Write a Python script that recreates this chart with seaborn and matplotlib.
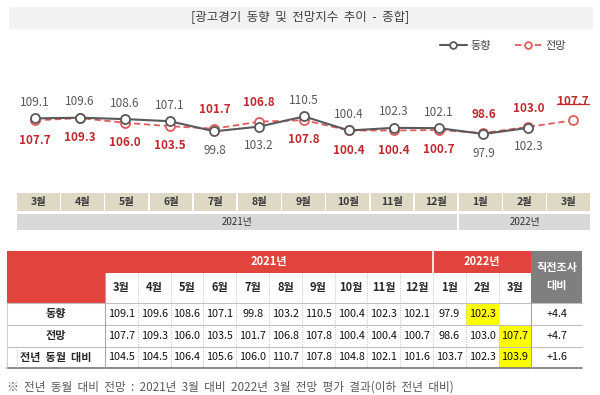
import numpy as np
import pandas as pd
import matplotlib
matplotlib.use('Agg')
import matplotlib.pyplot as plt
import matplotlib.patches as mpatches
from matplotlib.transforms import offset_copy
import seaborn as sns

months = ['3월', '4월', '5월', '6월', '7월', '8월', '9월', '10월', '11월', '12월', '1월', '2월', '3월']
years = ['2021년', '2022년']
year_span = [10, 3]
trend = [109.1, 109.6, 108.6, 107.1, 99.8, 103.2, 110.5, 100.4, 102.3, 102.1, 97.9, 102.3, np.nan]
outlook = [107.7, 109.3, 106.0, 103.5, 101.7, 106.8, 107.8, 100.4, 100.4, 100.7, 98.6, 103.0, 107.7]
yoy = [104.5, 104.5, 106.4, 105.6, 106.0, 110.7, 107.8, 104.8, 102.1, 101.6, 103.7, 102.3, 103.9]
change = ['+4.4', '+4.7', '+1.6']
row_names = ['동향', '전망', '전년  동월  대비']
title = '[광고경기  동향  및  전망지수  추이  -  종합]'
note = '※  전년  동월  대비  전망  :  2021년  3월  대비  2022년  3월  전망  평가  결과(이하  전년  대비)'

# label side for each point: 1 above, -1 below
trend_side = [1, 1, 1, 1, -1, -1, 1, 1, 1, 1, -1, -1, 0]
outlook_side = [-1, -1, -1, -1, 1, 1, -1, -1, -1, -1, 1, 1, 1]
# yellow cells (row, col)
highlight = [(0, 11), (1, 12), (2, 12)]

GRAY = '#595959'
RED_LINE = '#E25B5B'
RED_TXT = '#C0282E'
RED_HEAD = '#E0443C'

sns.set_theme(style='white')
plt.rcParams['font.family'] = ['Noto Sans CJK KR', 'DejaVu Sans']

fig = plt.figure(figsize=(6, 3.95), dpi=100)

# background layer in pixel units
bg = fig.add_axes([0, 0, 1, 1])
bg.set_xlim(0, 600)
bg.set_ylim(395, 0)
bg.axis('off')

bg.add_patch(mpatches.Rectangle((9, 7), 584, 22, color='#F2F2F2', lw=0))
bg.text(300, 18, title, ha='center', va='center', fontsize=9, color='#404040')

# month / year boxes under the chart
cw = 44.2
for i, m in enumerate(months):
    bg.add_patch(mpatches.Rectangle((17 + i * cw, 193), cw - 1.6, 18, color='#DDD9C4', lw=0))
    bg.text(17 + i * cw + (cw - 1.6) / 2, 202, m, ha='center', va='center',
            fontsize=7.5, fontweight='bold', color='#3A3A3A')
start = 0
for yname, n in zip(years, year_span):
    x0 = 17 + start * cw
    w = n * cw - 1.6
    bg.add_patch(mpatches.Rectangle((x0, 213.5), w, 16, color='#D9D9D9', lw=0))
    bg.text(x0 + w / 2, 221.5, yname, ha='center', va='center', fontsize=7, color='#303030')
    start += n

# line chart
ax = fig.add_axes([12 / 600, (395 - 180) / 395, 584 / 600, 120 / 395])
ax.patch.set_alpha(0)
x = np.arange(len(months))
df = pd.DataFrame({'x': x, '동향': trend, '전망': outlook})
sns.lineplot(data=df, x='x', y='전망', ax=ax, color=RED_LINE, lw=1.3, linestyle=(0, (3.5, 2)),
             marker='o', markersize=6.5, markerfacecolor='white', markeredgecolor=RED_LINE,
             markeredgewidth=1.3, label='전망', zorder=2)
sns.lineplot(data=df.dropna(), x='x', y='동향', ax=ax, color=GRAY, lw=1.5,
             marker='o', markersize=6.5, markerfacecolor='white', markeredgecolor=GRAY,
             markeredgewidth=1.3, label='동향', zorder=3)
ax.set_xlim(-0.513, 12.51)
ax.set_ylim(64.8, 151.1)
ax.axis('off')

for i, (v, s) in enumerate(zip(trend, trend_side)):
    if s == 0 or np.isnan(v):
        continue
    off = 11.5 if s > 0 else -13.7
    ax.annotate(f'{v:.1f}', (i, v), xytext=(0, off), textcoords='offset points',
                ha='center', va='center', fontsize=8.5, color='#595959')
for i, (v, s) in enumerate(zip(outlook, outlook_side)):
    off = 13.5 if s > 0 else -14.2
    ax.annotate(f'{v:.1f}', (i, v), xytext=(0, off), textcoords='offset points',
                ha='center', va='center', fontsize=8.5, fontweight='bold', color=RED_TXT)
# underline latest outlook
last = len(outlook) - 1
ax.plot([last - 0.36, last + 0.36], [outlook[last]] * 2, color=RED_TXT, lw=0.9,
        transform=offset_copy(ax.transData, fig=fig, y=11.8, units='points'))

h, l = ax.get_legend_handles_labels()
if ax.get_legend() is not None:
    ax.get_legend().remove()
order = [l.index('동향'), l.index('전망')]
leg = bg.legend([h[k] for k in order], [l[k] for k in order], loc='center left',
                bbox_to_anchor=(440 / 600, 1 - 46 / 395), bbox_transform=fig.transFigure,
                ncol=2, frameon=False, fontsize=8, handlelength=2.4, handletextpad=0.3,
                columnspacing=2.2, borderpad=0, borderaxespad=0, markerscale=0.75)
for t in leg.get_texts():
    t.set_color('#404040')

# table
tx0, tlab = 7, 105
dw = 32.8
tx_end = tlab + dw * len(months)
tx_last = 582
ry = [303, 325, 347, 368]

bg.add_patch(mpatches.Rectangle((tx0, 251), tx_end - tx0, 22, color=RED_HEAD, lw=0))
bg.add_patch(mpatches.Rectangle((tx0, 251), tlab - tx0, 52, color=RED_HEAD, lw=0))
bg.add_patch(mpatches.Rectangle((tx_end, 251), tx_last - tx_end, 52, color='#7F7F7F', lw=0))
bg.text((tx_end + tx_last) / 2, 277, '직전조사\n대비', ha='center', va='center', fontsize=8,
        fontweight='bold', color='white', linespacing=1.5)
start = 0
for yname, n in zip(years, year_span):
    xa = tlab + start * dw
    xb = xa + n * dw
    bg.text((xa + xb) / 2, 262, yname, ha='center', va='center', fontsize=8,
            fontweight='bold', color='white')
    if start > 0:
        bg.plot([xa, xa], [251, 273], color='white', lw=1.2)
    start += n

for (r, c) in highlight:
    bg.add_patch(mpatches.Rectangle((tlab + c * dw, ry[r]), dw, ry[r + 1] - ry[r],
                                    color='#FFFF00', lw=0))

for i, m in enumerate(months):
    bg.text(tlab + (i + 0.5) * dw, 288, m, ha='center', va='center', fontsize=8,
            fontweight='bold', color='#262626')

rows = [trend, outlook, yoy]
for r, (name, vals) in enumerate(zip(row_names, rows)):
    yc = (ry[r] + ry[r + 1]) / 2
    bg.text((tx0 + tlab) / 2, yc, name, ha='center', va='center', fontsize=8,
            fontweight='bold', color='#262626')
    for i, v in enumerate(vals):
        if np.isnan(v):
            continue
        bg.text(tlab + (i + 0.5) * dw, yc, f'{v:.1f}', ha='center', va='center',
                fontsize=7.8, color='#111111')
    bg.text((tx_end + tx_last) / 2, yc, change[r], ha='center', va='center',
            fontsize=7.8, color='#111111')

for yy in ry[:-1]:
    bg.plot([tx0, tx_last], [yy, yy], color='#BFBFBF', lw=0.8)
bg.plot([tx0, tx_last], [ry[-1], ry[-1]], color='#7F7F7F', lw=1.3)
bg.plot([tlab, tlab], [273, ry[-1]], color='#A6A6A6', lw=0.8)
bg.plot([tx_end, tx_end], [303, ry[-1]], color='#A6A6A6', lw=0.8)
for i in range(1, len(months)):
    xx = tlab + i * dw
    bg.plot([xx, xx], [273, ry[-1]], color='#BFBFBF', lw=0.7, linestyle=(0, (1, 1.5)))
bg.plot([tx0, tx0], [303, ry[-1]], color='#D0D0D0', lw=0.7)
bg.plot([17, 17], [ry[2], ry[3]], color='#BFBFBF', lw=0.7, linestyle=(0, (1, 1.5)))

bg.text(7, 387, note, ha='left', va='center', fontsize=8.4, color='#595959')

fig.savefig('out.png', dpi=100)
